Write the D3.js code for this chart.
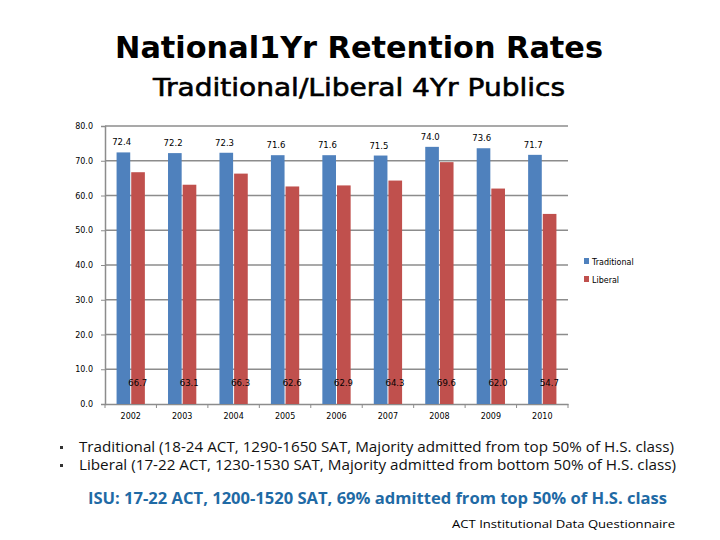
<!DOCTYPE html>
<html><head><meta charset="utf-8">
<script src="https://cdn.jsdelivr.net/npm/d3@7"></script>
<style>body{margin:0;background:#fff}svg{display:block}</style>
</head><body>
<svg id="c" width="720" height="540"></svg>
<script>
const years = ["2002","2003","2004","2005","2006","2007","2008","2009","2010"];
const traditional = [72.4,72.2,72.3,71.6,71.6,71.5,74.0,73.6,71.7];
const liberal = [66.7,63.1,66.3,62.6,62.9,64.3,69.6,62.0,54.7];
const tradLabels = ["72.4","72.2","72.3","71.6","71.6","71.5","74.0","73.6","71.7"];
const libLabels = ["66.7","63.1","66.3","62.6","62.9","64.3","69.6","62.0","54.7"];
const yTicks = [0,10,20,30,40,50,60,70,80];
const seriesNames = ["Traditional","Liberal"];
const colors = ["#4f81bd","#c0504d"];

const svg = d3.select("#c");
const L = 105, R = 568, T = 126, B = 404;
const x = d3.scaleBand().domain(years).range([L, R]).paddingInner(0.45).paddingOuter(0.225);
const y = d3.scaleLinear().domain([0, 80]).range([B, T]);
const xs = d3.scaleBand().domain(seriesNames).range([0, x.bandwidth()]);

// gridlines
svg.append("g").selectAll("line").data(yTicks.filter(d => d > 0)).join("line")
  .attr("x1", L).attr("x2", R).attr("y1", d => y(d)).attr("y2", d => y(d))
  .attr("stroke", "#8c8c8c").attr("stroke-width", 1.5);

// y axis
const ya = svg.append("g").attr("transform", `translate(${L},0)`)
  .call(d3.axisLeft(y).tickValues(yTicks).tickFormat(d3.format(".1f")).tickSize(4).tickPadding(8));
ya.select(".domain").attr("stroke", "#8c8c8c").attr("stroke-width", 1.5);
ya.selectAll(".tick line").attr("stroke", "#8c8c8c");
ya.selectAll("text").attr("font-family", "DejaVu Sans").attr("font-size", 8).attr("fill", "#000");

// x axis
const xa = svg.append("g").attr("transform", `translate(0,${B})`)
  .call(d3.axisBottom(x).tickSize(0).tickPadding(9));
xa.select(".domain").attr("stroke", "#8c8c8c").attr("stroke-width", 1.5);
xa.selectAll("text").attr("font-family", "DejaVu Sans").attr("font-size", 8).attr("fill", "#000");
// category separator ticks
svg.append("g").selectAll("line").data(d3.range(years.length + 1)).join("line")
  .attr("x1", i => L + i * (R - L) / years.length).attr("x2", i => L + i * (R - L) / years.length)
  .attr("y1", B).attr("y2", B + 4).attr("stroke", "#8c8c8c");

// bars
const data = years.map((yr, i) => ({yr, vals: [traditional[i], liberal[i]]}));
const g = svg.append("g");
data.forEach((d, i) => {
  d.vals.forEach((v, j) => {
    g.append("rect")
      .attr("x", x(d.yr) + xs(seriesNames[j]) + (j === 1 ? 0.5 : 0))
      .attr("y", y(v)).attr("width", xs.bandwidth() - 0.5).attr("height", y(0) - y(v))
      .attr("fill", colors[j]);
  });
  g.append("text").attr("x", x(d.yr) + xs("Traditional") + xs.bandwidth() / 2 - 2)
    .attr("y", y(traditional[i]) - 7).attr("text-anchor", "middle")
    .attr("font-family", "DejaVu Sans").attr("font-size", 8.5).text(tradLabels[i]);
  g.append("text").attr("x", x(d.yr) + xs("Liberal") + xs.bandwidth() / 2)
    .attr("y", y(0) - 18).attr("text-anchor", "middle")
    .attr("font-family", "DejaVu Sans").attr("font-size", 8.5).text(libLabels[i]);
});

// legend
const lg = svg.append("g").attr("transform", "translate(584,258)");
seriesNames.forEach((s, i) => {
  lg.append("rect").attr("x", 0).attr("y", i * 18).attr("width", 5).attr("height", 6).attr("fill", colors[i]);
  lg.append("text").attr("x", 8).attr("y", i * 18 + 7).attr("font-family", "DejaVu Sans")
    .attr("font-size", 8).text(s);
});

// titles
svg.append("text").attr("x", 359).attr("y", 58).attr("text-anchor", "middle")
  .attr("font-family", "DejaVu Sans").attr("font-weight", "bold").attr("font-size", 31)
  .attr("textLength", 488).attr("lengthAdjust", "spacingAndGlyphs").text("National1Yr Retention Rates");
svg.append("text").attr("x", 359).attr("y", 96).attr("text-anchor", "middle")
  .attr("font-family", "DejaVu Sans").attr("font-weight", "normal").attr("font-size", 25)
  .attr("stroke", "#000").attr("stroke-width", 0.6)
  .attr("textLength", 412).attr("lengthAdjust", "spacingAndGlyphs").text("Traditional/Liberal 4Yr Publics");

// bullets
const bullets = ["Traditional (18-24 ACT,  1290-1650 SAT, Majority admitted from top 50% of H.S. class)",
                 "Liberal (17-22 ACT,  1230-1530 SAT, Majority admitted from bottom 50% of H.S. class)"];
const bw = [595, 597];
bullets.forEach((b, i) => {
  svg.append("rect").attr("x", 60).attr("y", 446 + i * 18).attr("width", 3).attr("height", 3).attr("fill", "#333");
  svg.append("text").attr("x", 79).attr("y", 452 + i * 18).attr("font-family", "Open Sans")
    .attr("font-size", 14.5).attr("fill", "#111").attr("textLength", bw[i]).attr("lengthAdjust", "spacingAndGlyphs").text(b);
});
svg.append("text").attr("x", 88).attr("y", 504).attr("font-family", "Open Sans").attr("font-weight", "bold")
  .attr("font-size", 16).attr("fill", "#1f6aa5").attr("textLength", 579).attr("lengthAdjust", "spacingAndGlyphs")
  .text("ISU: 17-22 ACT, 1200-1520 SAT, 69% admitted from top 50% of H.S. class");
svg.append("text").attr("x", 452).attr("y", 528).attr("font-family", "Open Sans")
  .attr("font-size", 10.5).attr("fill", "#000").attr("textLength", 223).attr("lengthAdjust", "spacingAndGlyphs")
  .text("ACT Institutional Data Questionnaire");
</script>
</body></html>
